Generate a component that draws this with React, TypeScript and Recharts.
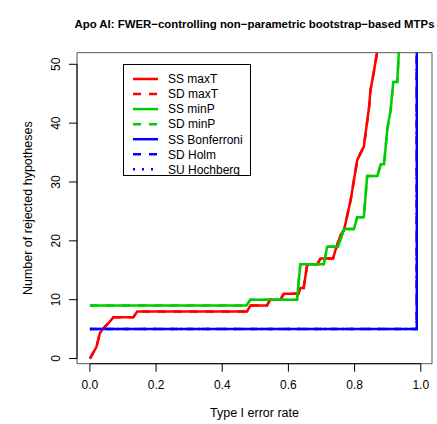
import React from 'react';
import { LineChart, Line, XAxis, YAxis, ReferenceArea, ReferenceLine, Legend, Label } from 'recharts';

const FONT = '"Liberation Sans", Arial, Helvetica, sans-serif';

// Type I error rate (x) and number of rejected hypotheses (y)
const maxTRate = [0, 0.02, 0.03, 0.04, 0.056, 0.071, 0.131, 0.143, 0.475, 0.485, 0.535, 0.545, 0.576, 0.586, 0.631, 0.636, 0.646, 0.657, 0.687, 0.697, 0.735, 0.742, 0.758, 0.768, 0.788, 0.808, 0.818, 0.828, 0.836, 0.844, 0.848, 0.859, 0.869, 0.88];
const maxTCount = [0, 2, 4.3, 5.1, 6, 7, 7, 8, 8, 9, 9, 10, 10, 11, 11, 12, 12, 16, 16, 17, 17, 18.4, 21, 21.8, 26.9, 33.7, 34.9, 36, 39.4, 42.8, 45.6, 49, 52.4, 60];

const minPRate = [0, 0.473, 0.485, 0.626, 0.636, 0.707, 0.717, 0.75, 0.768, 0.798, 0.808, 0.828, 0.838, 0.869, 0.879, 0.889, 0.899, 0.909, 0.917, 0.929, 0.934, 0.94];
const minPCount = [9, 9, 10, 10, 16, 16, 19, 19, 22, 22, 24, 24, 31, 31, 33, 33, 39, 42.2, 47, 47, 52.4, 60];

const bonfRate = [0, 0.988, 0.988];
const bonfCount = [5, 5, 6000];

const xTicks = [0, 0.2, 0.4, 0.6, 0.8, 1.0];
const yTicks = [0, 10, 20, 30, 40, 50];

const X_DOMAIN: [number, number] = [-0.039, 1.034];
const Y_DOMAIN: [number, number] = [-0.88, 51.97];

const zip = (xs: number[], ys: number[]) => xs.map((x, i) => ({ x, y: ys[i] }));

const series = [
  { name: 'SS maxT', color: '#FF0000', dash: undefined as string | undefined, data: zip(maxTRate, maxTCount) },
  { name: 'SD maxT', color: '#FF0000', dash: '8 8', data: zip(maxTRate, maxTCount) },
  { name: 'SS minP', color: '#00CD00', dash: undefined, data: zip(minPRate, minPCount) },
  { name: 'SD minP', color: '#00CD00', dash: '8 8', data: zip(minPRate, minPCount) },
  { name: 'SS Bonferroni', color: '#0000FF', dash: undefined, data: zip(bonfRate, bonfCount) },
  { name: 'SD Holm', color: '#0000FF', dash: '8 8', data: zip(bonfRate, bonfCount) },
  { name: 'SU Hochberg', color: '#0000FF', dash: '2 7', data: zip(bonfRate, bonfCount) },
];

const YTick = (props: any) => {
  const { x, y, payload } = props;
  return (
    <text x={x} y={y} transform={`rotate(-90 ${x} ${y})`} textAnchor="middle" fontSize={12} fontFamily={FONT} fill="#000">
      {payload.value}
    </text>
  );
};

const renderLegend = (props: any) => {
  const payload: any[] = props.payload || [];
  const items = series.filter((s) => payload.length === 0 || payload.some((p) => p.value === s.name));
  return (
    <svg width={128} height={112} style={{ display: 'block' }}>
      <rect x={0.5} y={0.5} width={127} height={111} fill="#fff" stroke="#000" strokeWidth={1} />
      {items.map((s, i) => {
        const cy = 15 + i * 15.05;
        return (
          <g key={s.name}>
            <line x1={10} x2={35} y1={cy} y2={cy} stroke={s.color} strokeWidth={2.5} strokeDasharray={s.dash} />
            <text x={45} y={cy + 4.3} fontSize={12} fontFamily={FONT} fill="#000">{s.name}</text>
          </g>
        );
      })}
    </svg>
  );
};

export default function App() {
  return (
    <div style={{ position: 'absolute', left: 0, top: 0, width: 437, height: 424, background: '#fff' }}>
      <svg width={437} height={40} style={{ position: 'absolute', left: 0, top: 0 }}>
        <text x={254.5} y={27.5} textAnchor="middle" fontSize={11.4} fontWeight="bold" fontFamily={FONT} fill="#000">
          Apo AI: FWER−controlling non−parametric bootstrap−based MTPs
        </text>
      </svg>
      <div style={{ position: 'absolute', left: 0, top: 0 }}>
        <LineChart width={437} height={424} margin={{ top: 52.7, right: 5, bottom: 0.3, left: 0 }}>
          <XAxis
            dataKey="x"
            type="number"
            domain={X_DOMAIN}
            ticks={xTicks}
            allowDataOverflow
            tickFormatter={(v: number) => v.toFixed(1)}
            tickSize={8}
            tickMargin={9}
            height={60}
            axisLine={false}
            tickLine={{ stroke: '#000' }}
            tick={{ fill: '#000', fontSize: 12, fontFamily: FONT }}
            interval={0}
          >
            <Label
              content={(lp: any) => {
                const vb = lp.viewBox || { x: 77, y: 364, width: 355 };
                return (
                  <text x={vb.x + vb.width / 2} y={vb.y + 53} textAnchor="middle" fontSize={12.5} fontFamily={FONT} fill="#000">
                    Type I error rate
                  </text>
                );
              }}
            />
          </XAxis>
          <YAxis
            type="number"
            domain={Y_DOMAIN}
            ticks={yTicks}
            allowDataOverflow
            width={77}
            tickSize={8}
            tickMargin={9}
            axisLine={false}
            tickLine={{ stroke: '#000' }}
            tick={<YTick />}
            interval={0}
          >
            <Label
              content={(lp: any) => {
                const vb = lp.viewBox || { x: 0, y: 52.7, width: 77, height: 311 };
                const cx = vb.x + 32;
                const cy = vb.y + vb.height / 2;
                return (
                  <text x={cx} y={cy} transform={`rotate(-90 ${cx} ${cy})`} textAnchor="middle" fontSize={12.5} fontFamily={FONT} fill="#000">
                    Number of rejected hypotheses
                  </text>
                );
              }}
            />
          </YAxis>
          {series.map((s) => (
            <Line
              key={s.name}
              name={s.name}
              data={s.data}
              dataKey="y"
              type="linear"
              stroke={s.color}
              strokeWidth={2.5}
              strokeDasharray={s.dash}
              dot={false}
              activeDot={false}
              isAnimationActive={false}
            />
          ))}
          <ReferenceArea x1={X_DOMAIN[0]} x2={X_DOMAIN[1]} y1={Y_DOMAIN[0]} y2={Y_DOMAIN[1]} fill="none" stroke="#555" strokeWidth={1} ifOverflow="visible" />
          <ReferenceLine segment={[{ x: 0, y: Y_DOMAIN[0] }, { x: 1, y: Y_DOMAIN[0] }]} stroke="#000" strokeWidth={1} ifOverflow="visible" />
          <ReferenceLine segment={[{ x: X_DOMAIN[0], y: 0 }, { x: X_DOMAIN[0], y: 50 }]} stroke="#000" strokeWidth={1} ifOverflow="visible" />
          <Legend
            layout="vertical"
            align="center"
            verticalAlign="middle"
            content={renderLegend}
            wrapperStyle={{ position: 'absolute', left: 123, top: 64, width: 128, height: 112 }}
          />
        </LineChart>
      </div>
    </div>
  );
}
